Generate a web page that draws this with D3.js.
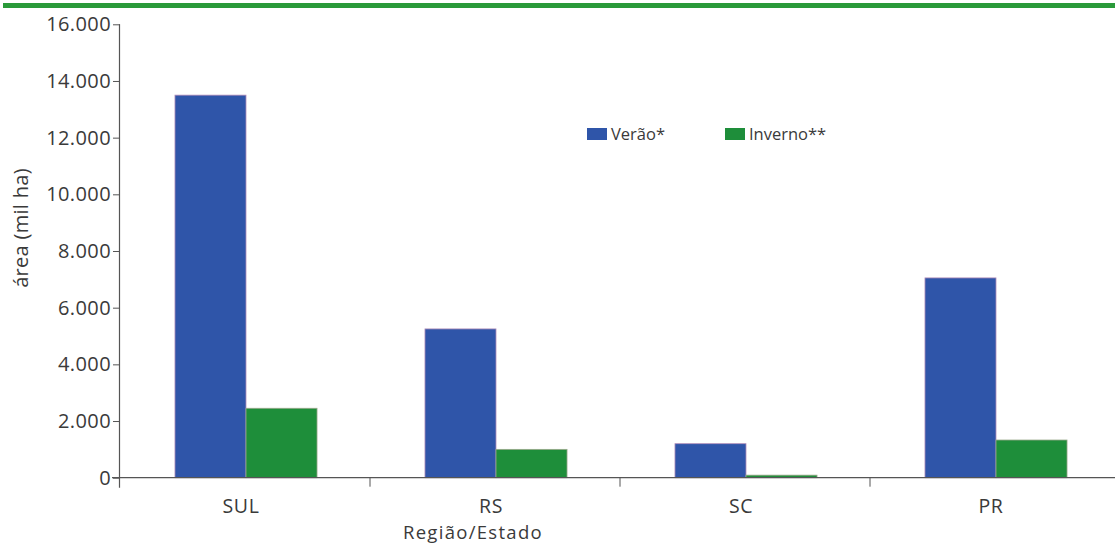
<!DOCTYPE html>
<html><head><meta charset="utf-8">
<script src="https://cdn.jsdelivr.net/npm/d3@7"></script>
<style>body{margin:0;background:#fff}svg{display:block}text{font-family:"Open Sans",sans-serif;fill:#3a3a3a}</style>
</head><body><svg id="c" width="1115" height="544"></svg>
<script>
const categories = ["SUL","RS","SC","PR"];
const seriesNames = ["Verão*","Inverno**"];
const verao = [13500, 5250, 1200, 7050];
const inverno = [2450, 1000, 90, 1330];
const yTicks = [0,2000,4000,6000,8000,10000,12000,14000,16000];
const colors = ["#2f55a9","#1e8e3a"];

const svg = d3.select("#c");
const mLeft = 120, mRight = 1120, mTop = 24.3, mBottom = 477.7;
const x0 = d3.scaleBand().domain(categories).range([mLeft, mRight]).paddingInner(0).paddingOuter(0);
const x1 = d3.scaleBand().domain(seriesNames).range([0, x0.bandwidth()]).paddingInner(0).paddingOuter(0.76);
const y = d3.scaleLinear().domain([0,16000]).range([mBottom, mTop]);

// top green rule
svg.append("rect").attr("x",3).attr("y",3).attr("width",1112).attr("height",5).attr("fill","#2a9a3a");

const fmt = d => d3.format(",")(d).replace(/,/g,".");
const yAxis = svg.append("g").attr("transform",`translate(${mLeft},0)`)
  .call(d3.axisLeft(y).tickValues(yTicks).tickFormat(fmt).tickSize(7).tickPadding(2));
yAxis.select(".domain").attr("stroke","#555").attr("stroke-width",1.2).attr("d",`M-0.5,${mTop}V${mBottom+10}`);
yAxis.selectAll(".tick line").attr("stroke","#555");
yAxis.selectAll(".tick text").style("font-size","20px").style("letter-spacing","0.4px").attr("fill","#3a3a3a");

const data = categories.map((c,i)=>({cat:c, vals:[verao[i], inverno[i]]}));
const g = svg.append("g");
data.forEach(d=>{
  d.vals.forEach((v,j)=>{
    g.append("rect")
      .attr("x", x0(d.cat)+x1(seriesNames[j])+1)
      .attr("y", y(v))
      .attr("width", x1.bandwidth())
      .attr("height", mBottom - y(v))
      .attr("fill", colors[j])
      .attr("stroke", j===0 ? "#b08cb8" : "#9aa88a")
      .attr("stroke-width", 0.8);
  });
});

// x axis
const xAxis = svg.append("g").attr("transform",`translate(0,${mBottom})`);
xAxis.append("line").attr("x1",112).attr("x2",1115).attr("y1",0).attr("y2",0).attr("stroke","#555").attr("stroke-width",1.2);
categories.forEach((c,i)=>{
  if(i>0) xAxis.append("line").attr("x1",x0(c)).attr("x2",x0(c)).attr("y1",0).attr("y2",9).attr("stroke","#555");
  xAxis.append("text").attr("x",x0(c)+x0.bandwidth()/2-4).attr("y",35).attr("text-anchor","middle")
    .style("font-size","19.5px").style("letter-spacing","0.6px").text(c);
});
svg.append("text").attr("x",x0("RS")+103).attr("y",538.5).attr("text-anchor","middle")
  .style("font-size","18.5px").style("letter-spacing","1.3px").text("Região/Estado");
svg.append("text").attr("transform","translate(28,228) rotate(-90)").attr("text-anchor","middle")
  .style("font-size","20px").style("letter-spacing","0.3px").text("área (mil ha)");

// legend
const legX = [587, 725];
seriesNames.forEach((s,j)=>{
  svg.append("rect").attr("x",legX[j]).attr("y",128).attr("width",20).attr("height",12).attr("fill",colors[j]);
  svg.append("text").attr("x",legX[j]+24).attr("y",140).style("font-size","16.5px").text(s);
});
</script></body></html>
